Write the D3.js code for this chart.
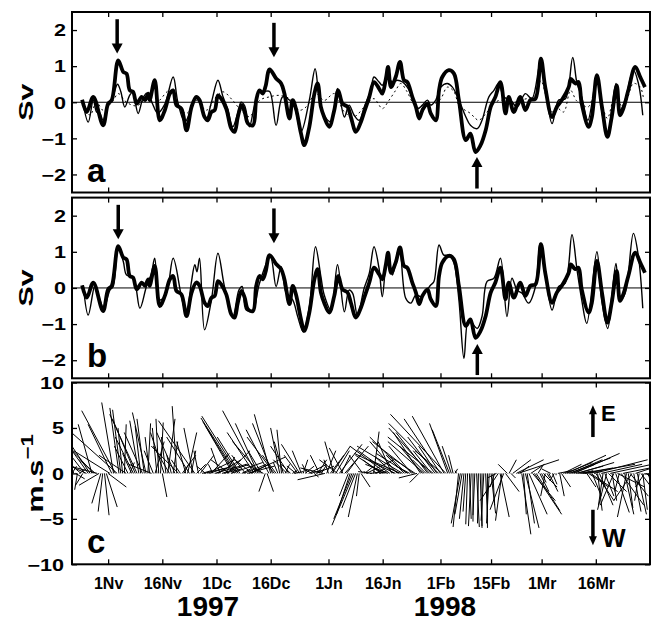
<!DOCTYPE html>
<html>
<head>
<meta charset="utf-8">
<script src="https://cdn.jsdelivr.net/npm/d3@7"></script>
<style>
body { margin: 0; background: #fff; }
svg { display: block; font-family: "Liberation Sans", Arial, sans-serif; font-weight: bold; }
</style>
</head>
<body>
<svg id="chart" width="651" height="623"></svg>
<script>
// days counted from 1 Nov 1997, values in Sv
const observed = [[-7.2,0.07],[-5.9,-0.27],[-4.1,0.15],[-1.4,-0.64],[0,-0.04],[1,0.06],[2.8,1.16],[4.2,0.84],[5.1,0.79],[6,0.33],[6.9,0.29],[7.9,-0.04],[9.3,0.15],[10.2,0.06],[11.1,0.24],[11.5,0.06],[12.9,0.61],[14.3,-0.5],[15.7,-0.22],[17.1,0.24],[18,0.33],[18.9,-0.08],[20.3,-0.18],[21.7,-0.78],[23.1,-0.13],[24.4,0.15],[25.3,0.06],[26.7,-0.41],[27.6,-0.5],[28.6,-0.27],[29.5,-0.22],[30.4,0.19],[31.3,0.1],[32.7,-0.18],[34.1,-0.73],[35,-0.82],[35.9,-0.41],[36.9,-0.08],[37.8,-0.27],[38.7,-0.59],[40.1,-0.64],[41,0.06],[41.9,0.33],[42.8,0.24],[43.6,0.45],[44.7,0.91],[46.5,0.66],[47.9,0.52],[48.8,0.24],[50.2,-0.45],[51.1,0.06],[52,-0.18],[53.4,-0.87],[54.3,-1.19],[55.7,-0.68],[57.1,0.24],[58,0.52],[58.9,-0.13],[59.8,-0.41],[61.2,-0.68],[62.6,-0.22],[63.7,0.33],[64.9,-0.04],[66.3,-0.13],[67.2,-0.41],[68.6,-0.82],[70,-0.54],[70.9,-0.27],[72.3,0.15],[73.6,0.56],[75,0.38],[75.9,0.24],[76.9,0.66],[77.5,0.98],[78.3,0.42],[79.6,0.7],[80.8,1.12],[81.9,0.61],[82.8,0.56],[84.2,0.15],[85.2,-0.13],[86.1,-0.45],[87,-0.22],[88.4,-0.04],[89.3,-0.31],[90.7,-0.5],[91.6,0.33],[92.5,0.7],[94.3,0.89],[95.7,0.8],[97.1,0.06],[99,-1.05],[100.3,-0.87],[101.7,-1.38],[103.1,-1.19],[104.5,-0.78],[105.9,-0.13],[107.2,0.15],[108.6,0.56],[110,-0.31],[110.9,0.15],[112.3,-0.27],[114.1,0.15],[115.5,-0.22],[116.9,0.06],[118.3,0.1],[119.8,1.21],[121,0.42],[122.9,-0.41],[124.2,-0.13],[125.6,0.06],[127.5,0.42],[128.1,0.65],[129.3,0.52],[130.2,0.56],[131.1,-0.04],[133,-0.68],[133.9,-0.41],[135.3,0.75],[136.7,-0.13],[138.2,-0.96],[139.4,-0.41],[140.8,0.47],[141.7,-0.36],[142.6,-0.18],[144,0.33],[145.9,0.98],[147.3,0.7],[148.6,0.42]];

const modelA = [[-7.1,0.06],[-5.5,-0.55],[-4.1,0.06],[-3.2,-0.27],[-2.3,-0.3],[-1.4,-0.5],[-0.1,-0.1],[1,0.05],[2.6,0.5],[3.5,0.3],[4.6,-0.13],[6,0.2],[6.8,0.28],[8.3,-0.31],[9.6,0.1],[10.7,0.25],[12.1,0],[13.7,-0.3],[15.7,-0.05],[18,0.7],[19.3,0],[21.2,-0.55],[22.6,-0.3],[24.4,0.1],[25.8,-0.1],[27.2,-0.45],[28.6,0],[30.4,0.61],[31.8,0.15],[33.1,-0.18],[34.5,-0.68],[35.9,-0.3],[36.8,0],[37.8,-0.1],[39.1,-0.68],[40.5,-0.1],[41.9,0.3],[43.3,0.3],[44.7,0.3],[46.5,-0.64],[48.3,0.15],[50.2,0.06],[51.6,-0.13],[53.4,-0.82],[55.7,0.06],[57.3,0.93],[58.4,0.15],[59.8,-0.36],[61.7,-0.54],[63.5,0.38],[65.4,-0.41],[66.7,-0.08],[68.1,-0.36],[69.5,-0.5],[70.9,-0.13],[72.7,0.33],[73.6,0.7],[75,0.56],[75.9,0.47],[77.3,0.7],[78.7,0.56],[80.1,0.61],[81.5,0.56],[82.8,0.42],[84.2,0.15],[85.6,-0.18],[87,-0.08],[88.4,0.06],[89.3,-0.08],[90.7,0.06],[92.1,0.42],[93.9,0.52],[95.3,0.42],[97.1,0.06],[99,-0.4],[100.3,-0.64],[102.2,-0.73],[103.5,-0.5],[105.4,0.15],[106.8,0.33],[108.1,0.52],[109.5,0.15],[111.4,0.06],[113.2,-0.13],[115.5,0.24],[117.3,0.1],[119.7,1.12],[121,0.42],[122.9,-0.59],[124.7,0.06],[126.6,0.1],[128.6,1.24],[129.8,0.52],[131.1,0.15],[132.8,-0.5],[135.3,0.7],[136.6,-0.22],[138.3,-0.96],[139.4,-0.22],[140.6,0.52],[141.7,-0.22],[143.1,0.06],[145.4,0.89],[146.8,0.52],[148,-0.36]];

const modelADotted = [[-7.1,0.05],[-5,-0.36],[-3.2,0],[-1.4,-0.22],[1.4,0.05],[2.8,0.24],[5.1,0],[7.9,-0.1],[10.6,0.1],[13.4,0],[17.1,0.33],[19.8,-0.13],[21.7,-0.31],[24.4,0.05],[27.2,-0.22],[29.9,0.15],[31.8,0.29],[34.5,0.05],[36.4,-0.18],[39.1,-0.4],[41.9,0.05],[44.7,0.15],[47.4,0.19],[50.2,0.1],[52.9,-0.22],[54.8,-0.13],[57.5,0.24],[59.8,0.05],[62.6,0.24],[65.4,-0.27],[68.1,-0.4],[70.9,-0.13],[73.6,0.1],[75,-0.08],[75.9,-0.18],[77.8,0.06],[79.6,0.33],[81,0.52],[82.7,0.3],[84.6,-0.05],[86.5,-0.18],[88.3,-0.1],[90.2,-0.05],[92.1,0.1],[93.9,0.42],[95.7,0.3],[97.1,-0.08],[98.5,-0.2],[100.3,-0.31],[101.7,-0.45],[102.6,-0.5],[104.9,-0.27],[106.3,-0.08],[108.6,0.06],[110.9,-0.05],[114.1,0.06],[115.9,0.1],[118.3,0.19],[119.8,0.6],[121.4,0.1],[122.9,-0.27],[124.2,-0.15],[126.1,-0.27],[128,0.33],[129.6,0.05],[131,-0.05],[132.9,-0.13],[135.3,0.52],[136.6,0],[138.2,-0.45],[139.6,0],[140.8,0.24],[142.1,-0.1],[143.5,0.05],[145.4,0.52],[147.3,0.42],[148.2,0.1]];

const modelB = [[-6.9,0.08],[-5.5,-0.75],[-3.6,0.08],[-2.3,-0.33],[-1.2,-0.56],[0.5,-0.06],[1.4,0.04],[2.8,1.14],[4.2,0.73],[5.1,0.36],[6.9,0.31],[8.8,-0.56],[10.6,0.04],[12,0.41],[12.9,0.82],[14.3,-0.33],[16.1,-0.15],[18,0.82],[20.3,-0.24],[21.7,-0.75],[23,0.13],[24,0.64],[24.6,0.45],[25.3,0.82],[26.7,-1.16],[28.6,-0.33],[30.4,0.96],[32.2,0.04],[34.5,-0.8],[36.2,-0.06],[37.1,0.04],[38.2,-0.61],[40,-0.61],[41.9,0.13],[44.9,0.87],[46.5,0.04],[47.9,0.59],[49.3,-0.15],[51.1,-0.33],[52.5,-0.8],[54,-1.21],[55.7,-0.52],[57.4,1.14],[58.9,0.31],[59.8,-0.19],[61.7,-0.61],[63.5,0.64],[65.4,-0.66],[66.7,-0.06],[67.7,-0.15],[69,-0.75],[70.9,0],[72.3,0.41],[73.6,1.14],[75,0.54],[75.9,-0.24],[77.3,0.91],[78.7,0.36],[80.6,1.14],[82.4,-0.29],[83.8,-0.42],[85.2,-0.19],[86.5,-0.24],[87.9,-0.1],[89.3,0.08],[90.2,0.18],[91.6,1.19],[92.9,0.91],[94.3,0.91],[95.7,0.7],[97.1,-0.33],[98.5,-1.95],[99.7,-0.89],[100.8,-0.98],[102.2,-1.12],[103.5,-0.79],[104.9,0.18],[106.8,0.27],[108.6,0.82],[110.4,-0.79],[111.8,0.27],[113.2,-0.06],[114.6,-0.15],[116.4,-0.42],[118.3,0.04],[119.6,1.24],[121,0.41],[122.9,-0.61],[124.7,0.04],[126.5,0.13],[128.4,1.47],[129.8,0.5],[131.1,-0.33],[132.5,-0.98],[135.3,1],[136.6,-0.33],[138.3,-1.12],[139.4,-0.24],[140.6,0.68],[141.7,-0.33],[143.1,-0.15],[145.4,1.51],[146.8,0.87],[148,-0.56]];

// wind sticks every half day from 22 Oct 1997 (m/s): u along time axis, v = eastward (up)
const windStartDay = -10;
const windStepDay = 0.5;
const windU = [
  0.5,-0.5,1.0,-0.3,0.8,-1.2,-0.8,-2.0,-3.5,-2.5,
  -3.0,-1.5,-2.8,-1.8,-3.0,-2.2,-1.0,-0.5,0.5,1.2,
  2.0,-4.0,-2.6,-1.3,-3.7,-5.7,-1.0,-0.9,-0.5,0.2,
  -3.0,-1.5,0.5,-1.0,-2.0,-2.5,-3.0,-1.0,-0.6,-2.0,
  -0.8,-1.5,0.3,-0.5,-2.5,-1.0,1.0,-0.5,-0.3,0.3,
  0.5,-1.5,-0.5,0.8,-1.8,-0.5,0.5,-2.0,-0.5,-3.0,
  -1.0,1.5,0.5,-1.0,1.0,-2.5,0.5,-1.0,-4.0,1.0,
  -0.5,1.5,1.0,2.5,-1.0,3.0,1.5,2.0,-0.5,3.5,
  1.5,2.5,-1.0,3.0,2.0,1.0,2.5,-2.0,3.5,-3.0,
  -3.5,-3.9,-4.0,-2.5,1.0,2.5,-1.5,3.0,4.0,2.0,
  -2.0,-3.0,-3.7,-2.5,-3.0,-1.5,-2.0,-0.7,0.7,-2.5,
  -1.8,-2.2,-3.0,-1.5,-0.5,-1.0,-0.5,-1.0,0.5,-1.5,
  -2.0,-1.0,0.5,1.0,-1.0,-1.5,-2.0,-1.0,0.5,1.0,
  -0.5,2.0,1.5,-1.0,0.5,2.0,1.0,-1.0,0.5,-2.5,
  -3.0,1.0,-0.5,1.5,2.0,-1.0,1.5,-2.0,2.5,1.0,
  -1.5,2.6,1.5,-1.0,-1.5,-2.0,-2.4,-1.5,-1.0,-0.3,
  1.0,-1.5,1.0,3.0,-0.5,1.0,-1.5,0.6,1.0,-0.5,
  0.8,-2.0,-3.0,-1.0,-4.0,-2.5,-3.5,-1.5,-2.0,-4.5,
  -3.0,-1.0,-3.5,-5.0,-2.0,-4.0,-3.5,-1.5,-2.5,-4.5,
  -3.0,-2.0,-1.0,-3.0,-2.5,-4.0,-1.5,-3.5,-4.5,-2.0,
  -5.0,-3.0,-2.0,-5.5,-4.0,-3.0,-3.5,-6.1,-2.0,-1.9,
  -1.0,-0.5,0.3,-0.2,-0.6,-1.0,-0.8,-0.5,-0.3,-0.2,
  0.2,-0.3,0.0,-0.2,0.3,-0.1,0.2,0.0,-0.3,0.2,
  0.0,-0.3,0.5,0.2,-0.5,-1.0,-2.0,1.0,-0.7,-1.5,
  1.5,-1.0,0.8,0.5,2.0,0.0,3.0,4.5,1.0,1.0,
  0.3,1.5,0.8,2.0,1.5,2.5,3.0,2.6,0.5,1.0,
  0.5,1.5,-0.5,0.3,1.0,-1.0,0.5,-0.5,0.0,1.5,
  0.5,1.0,2.0,3.0,4.3,4.6,3.5,2.5,5.0,3.0,
  4.0,1.5,3.5,2.0,5.5,1.0,2.2,3.0,1.0,5.9,
  2.0,0.5,1.5,4.5,-0.5,1.0,-1.0,2.0,6.0,0.5,
  -1.5,1.5,3.0,-0.5,2.5,4.0,1.0,-1.0,0.5,2.0,
  -2.0,0.8,3.0,1.0,-0.5,1.5,0.5,-1.0,0.5,1.0
];
const windV = [
  0.8,1.2,-0.6,-1.8,0.5,1.0,-1.3,2.6,1.6,3.5,
  4.5,5.4,3.0,1.5,0.8,-1.3,-3.3,-4.2,-4.6,-3.7,
  -1.5,2.5,5.4,7.8,6.9,5.1,7.2,7.0,5.0,5.4,
  2.0,3.0,1.2,2.2,4.0,6.0,6.5,5.8,5.2,4.5,
  6.0,6.7,5.5,4.0,1.0,2.5,3.5,5.0,6.0,5.6,
  -2.6,4.5,4.0,6.0,3.0,2.0,3.5,4.5,7.4,3.0,
  1.5,2.0,1.0,3.5,4.5,4.0,2.5,5.0,5.8,1.0,
  2.5,2.0,0.3,0.6,0.8,1.5,0.5,2.2,1.0,1.0,
  0.8,1.5,2.8,1.0,0.5,1.8,2.5,1.5,1.2,5.2,
  5.7,6.1,6.3,4.0,0.5,1.0,2.0,0.8,1.8,1.0,
  1.5,4.5,6.9,5.5,3.5,2.5,1.0,-2.0,-2.0,4.8,
  6.5,5.5,4.0,2.0,1.2,5.0,4.8,3.5,1.0,1.5,
  3.0,1.0,0.3,0.2,0.8,2.0,3.2,2.5,1.5,0.8,
  1.0,1.0,0.4,0.5,-0.4,0.8,1.5,2.0,0.8,0.6,
  -0.7,2.5,1.5,2.0,3.0,3.5,2.5,1.5,3.2,2.0,
  2.8,3.0,2.0,-2.5,-4.5,-5.0,-5.7,-3.8,-4.8,-2.5,
  -1.5,2.0,0.8,1.5,0.2,0.1,0.2,4.6,0.5,0.3,
  0.2,1.5,2.0,0.5,3.0,1.0,2.5,3.5,1.8,2.2,
  3.5,0.6,1.5,3.0,2.0,4.0,2.2,0.8,3.0,3.5,
  2.0,-0.5,-1.0,4.5,3.0,3.5,1.5,4.5,5.0,2.5,
  4.0,4.0,3.0,5.5,6.0,2.5,6.3,6.5,5.5,4.8,
  3.0,2.0,0.5,0.3,-5.9,-5.5,-4.5,-5.0,-4.2,-5.6,
  -5.0,-5.8,-5.3,-4.6,-5.9,-5.5,-6.0,-5.8,-5.2,-4.8,
  -6.0,-5.5,-4.4,-3.5,-1.5,-0.5,-3.0,-4.8,-5.2,-4.0,
  -2.0,1.0,1.5,-0.5,1.5,0.0,1.5,1.5,0.8,-6.7,
  -4.5,-6.0,-5.5,-4.5,1.0,-3.0,-4.5,-4.1,0.8,-2.0,
  -1.0,-1.5,-2.5,-0.5,-2.0,0.5,-1.2,-0.8,-0.2,0.3,
  -2.5,-1.5,1.0,1.2,2.0,1.7,1.5,1.0,2.2,0.8,
  1.2,0.3,0.6,0.2,1.0,-1.5,-1.5,-2.0,-2.5,1.5,
  -3.0,-4.1,-3.5,1.0,-3.5,-2.5,-4.0,-2.0,1.3,-3.0,
  -3.5,-4.3,-1.5,-2.0,-3.5,0.8,-4.5,-4.8,-3.8,-2.5,
  -3.0,-4.2,1.0,-4.5,-3.0,-2.0,-4.0,-1.5,-0.5,-3.5
];

const tickDays = [0, 15, 30, 45, 61, 76, 92, 106, 120, 135];
const tickLabels = ["1Nv", "16Nv", "1Dc", "16Dc", "1Jn", "16Jn", "1Fb", "15Fb", "1Mr", "16Mr"];
const svTicks = [-2, -1, 0, 1, 2];
const windTicks = [-10, -5, 0, 5, 10];

// arrows: [day, from, to]
const arrowsA = [[2.5, 2.3, 1.35], [45.9, 2.2, 1.25], [102.1, -2.39, -1.52]];
const arrowsB = [[2.8, 2.3, 1.35], [45.9, 2.2, 1.24], [102.2, -2.41, -1.55]];
const arrowsC = [[134.2, 4.0, 7.5], [134.2, -4.0, -7.9]];

const T0 = Date.UTC(1997, 10, 1);
const toDate = d => new Date(T0 + d * 864e5);
const fmtMinus = v => v < 0 ? "\u2212" + Math.abs(v) : String(v);

const svg = d3.select("#chart");
svg.append("rect").attr("width", 651).attr("height", 623).attr("fill", "#fff");

const x = d3.scaleUtc()
    .domain([new Date(Date.UTC(1997, 9, 22)), new Date(Date.UTC(1998, 2, 31))])
    .range([72, 650]);

const ya = d3.scaleLinear().domain([-2.5, 2.5]).range([192.5, 12]);
const yb = d3.scaleLinear().domain([-2.5, 2.5]).range([378.3, 197.6]);
const yc = d3.scaleLinear().domain([-10, 10]).range([564.3, 382.5]);

const tickDates = tickDays.map(toDate);

function frame(y, ticks, pad, showDates) {
    const g = svg.append("g");
    const [y0, y1] = y.range();
    const left = d3.axisLeft(y).tickValues(ticks).tickSize(-5).tickFormat(fmtMinus);
    const gl = g.append("g").attr("transform", "translate(72,0)").call(left);
    // y tick labels are drawn wide in the original
    gl.selectAll(".tick text").attr("x", 0).attr("dy", "0.36em")
        .attr("transform", `translate(${-pad},0) scale(1.35,1)`);
    g.append("g").attr("transform", "translate(650,0)")
        .call(d3.axisRight(y).tickValues(ticks).tickSize(-5).tickFormat(""));
    g.append("g").attr("transform", `translate(0,${y1})`)
        .call(d3.axisTop(x).tickValues(tickDates).tickSize(-5).tickFormat(""));
    const bottom = d3.axisBottom(x).tickValues(tickDates).tickSize(-5);
    if (showDates) bottom.tickPadding(13).tickFormat((d, i) => tickLabels[i]);
    else bottom.tickFormat("");
    g.append("g").attr("transform", `translate(0,${y0})`).call(bottom);
    g.selectAll(".domain").remove();
    g.selectAll(".tick line").attr("stroke", "#000").attr("stroke-width", 1.3);
    g.selectAll(".tick text").attr("fill", "#000").attr("font-size", 16)
        .attr("font-family", '"Liberation Sans", Arial, sans-serif').attr("font-weight", "bold");
    g.append("rect")
        .attr("x", 72).attr("y", y1)
        .attr("width", 578).attr("height", y0 - y1)
        .attr("fill", "none").attr("stroke", "#000").attr("stroke-width", 2);
    return g;
}

function seriesLine(y) {
    return d3.line()
        .x(d => x(toDate(d[0])))
        .y(d => y(d[1]))
        .curve(d3.curveCatmullRom.alpha(0.5));
}

function arrows(list, y, head, half) {
    list.forEach(([d, from, to]) => {
        const ax = x(toDate(d));
        const ys = y(from), yt = y(to);
        const dir = yt > ys ? 1 : -1;
        svg.append("line")
            .attr("x1", ax).attr("x2", ax)
            .attr("y1", ys).attr("y2", yt - dir * head * 0.8)
            .attr("stroke", "#000").attr("stroke-width", 3.5);
        svg.append("path")
            .attr("d", `M${ax - half},${yt - dir * head}L${ax + half},${yt - dir * head}L${ax},${yt}Z`)
            .attr("fill", "#000");
    });
}

// panel a
svg.append("line").attr("x1", 72).attr("x2", 650).attr("y1", ya(0)).attr("y2", ya(0))
    .attr("stroke", "#000").attr("stroke-width", 1);
svg.append("path").datum(modelADotted).attr("d", seriesLine(ya))
    .attr("fill", "none").attr("stroke", "#000").attr("stroke-width", 1).attr("stroke-dasharray", "2,3");
svg.append("path").datum(modelA).attr("d", seriesLine(ya))
    .attr("fill", "none").attr("stroke", "#000").attr("stroke-width", 1.4);
svg.append("path").datum(observed).attr("d", seriesLine(ya))
    .attr("fill", "none").attr("stroke", "#000").attr("stroke-width", 3.8).attr("stroke-linejoin", "round");
frame(ya, svTicks, 6, false);
arrows(arrowsA, ya, 10, 5.5);

// panel b
svg.append("line").attr("x1", 72).attr("x2", 650).attr("y1", yb(0)).attr("y2", yb(0))
    .attr("stroke", "#000").attr("stroke-width", 1);
svg.append("path").datum(modelB).attr("d", seriesLine(yb))
    .attr("fill", "none").attr("stroke", "#000").attr("stroke-width", 1.4);
svg.append("path").datum(observed).attr("d", seriesLine(yb))
    .attr("fill", "none").attr("stroke", "#000").attr("stroke-width", 3.8).attr("stroke-linejoin", "round");
frame(yb, svTicks, 6, false);
arrows(arrowsB, yb, 10, 5.5);

// panel c: wind sticks, clipped to the frame
svg.append("clipPath").attr("id", "clipC").append("rect")
    .attr("x", 72).attr("y", yc(10)).attr("width", 578).attr("height", yc(-10) - yc(10));
const sticks = windU.map((u, i) => ({ day: windStartDay + i * windStepDay, u: u, v: windV[i] }));
svg.append("g").attr("clip-path", "url(#clipC)").selectAll("line")
    .data(sticks)
    .join("line")
    .attr("x1", d => x(toDate(d.day)))
    .attr("y1", yc(0))
    .attr("x2", d => x(toDate(d.day)) + (yc(0) - yc(d.u)))
    .attr("y2", d => yc(d.v))
    .attr("stroke", "#000").attr("stroke-width", 1);
frame(yc, windTicks, 8, true);
arrows(arrowsC, yc, 9, 4);

// labels
function sideLabel(ty, parts) {
    const t = svg.append("text")
        .attr("transform", `translate(33,${ty}) rotate(-90) scale(1.45,1)`)
        .attr("text-anchor", "middle").attr("font-size", 21);
    parts(t);
}
sideLabel(ya(0), t => t.text("Sv"));
sideLabel(yb(0), t => t.text("Sv"));
svg.append("text")
    .attr("transform", `translate(43,${yc(0)}) rotate(-90) scale(1.4,1)`)
    .attr("text-anchor", "middle").attr("font-size", 22)
    .call(t => {
        t.append("tspan").text("m.s");
        t.append("tspan").attr("dy", "-0.65em").attr("font-size", 16).text("\u22121");
    });

const label = (tx, ty, txt, size) => svg.append("text")
    .attr("x", tx).attr("y", ty).attr("font-size", size).text(txt);

label(87, 182, "a", 33);
label(87, 367, "b", 33);
label(87, 553, "c", 33);

label(601, 421, "E", 22);
label(602, 547, "W", 25);

svg.append("text").attr("x", 208).attr("y", 616).attr("text-anchor", "middle")
    .attr("font-size", 28).text("1997");
svg.append("text").attr("x", 445).attr("y", 616).attr("text-anchor", "middle")
    .attr("font-size", 28).text("1998");
</script>
</body>
</html>
